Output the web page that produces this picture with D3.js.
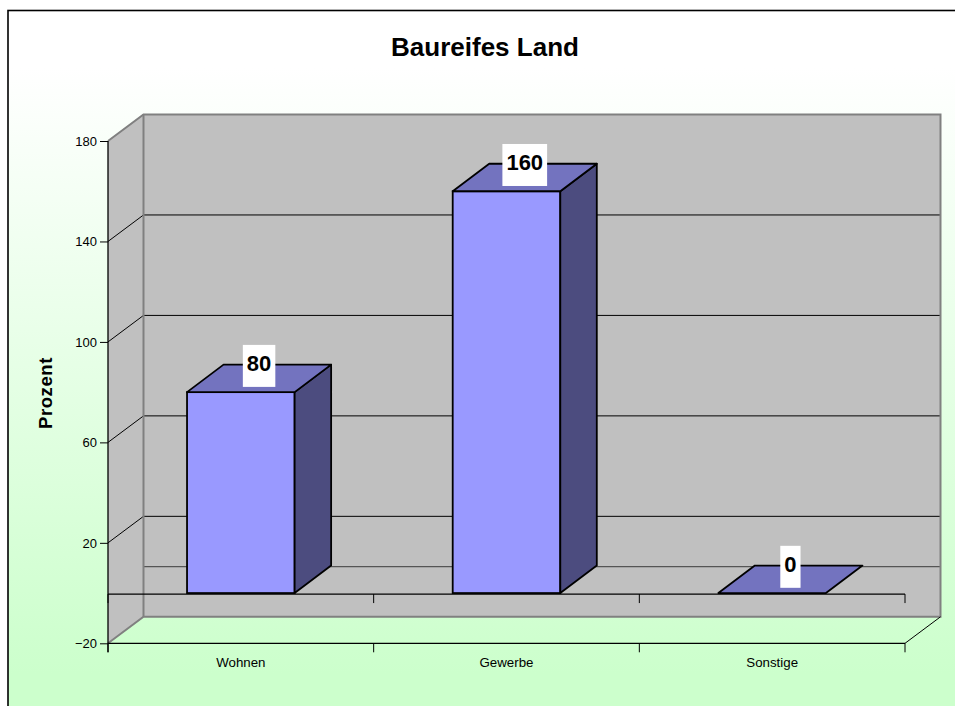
<!DOCTYPE html>
<html>
<head>
<meta charset="utf-8">
<script src="https://cdn.jsdelivr.net/npm/d3@7"></script>
<style>
  html, body { margin: 0; padding: 0; background: #fff; }
  svg { display: block; font-family: "Liberation Sans", Arial, sans-serif; }
</style>
</head>
<body>
<svg id="chart" width="955" height="706"></svg>
<script>
const title = "Baureifes Land";
const yTitle = "Prozent";
const categories = ["Wohnen", "Gewerbe", "Sonstige"];
const values = [80, 160, 0];
const yTickValues = [-20, 20, 60, 100, 140, 180];
const yDomain = [-20, 180];

const svg = d3.select("#chart");
const W = 955, H = 706;

// layout
const pLeft = 108, pRight = 905, pTop = 141, pBottom = 643.3;
const wallDx = 35.5, wallDy = -26.5;
const barDx = 36.5, barDy = -27.5;

// background gradient
const defs = svg.append("defs");
const grad = defs.append("linearGradient").attr("id", "bg")
  .attr("x1", 0).attr("y1", 0).attr("x2", 0).attr("y2", 1);
grad.append("stop").attr("offset", "0%").attr("stop-color", "#ffffff");
grad.append("stop").attr("offset", "8%").attr("stop-color", "#ffffff");
grad.append("stop").attr("offset", "92%").attr("stop-color", "#ccffcc");
grad.append("stop").attr("offset", "100%").attr("stop-color", "#ccffcc");

svg.append("rect").attr("x", 0).attr("y", 0).attr("width", W).attr("height", H).attr("fill", "#fff");
svg.append("rect").attr("x", 8).attr("y", 10.5).attr("width", 960).attr("height", 720)
  .attr("fill", "url(#bg)").attr("stroke", "#000").attr("stroke-width", 1.6);

const y = d3.scaleLinear().domain(yDomain).range([pBottom, pTop]);
const x = d3.scaleBand().domain(categories).range([pLeft, pRight])
  .paddingInner(0.595).paddingOuter(0.2975);
const xCat = d3.scaleBand().domain(categories).range([pLeft, pRight]).padding(0);

const y0 = y(0);
const bx0 = pLeft + wallDx, bx1 = pRight + wallDx;

// side wall
svg.append("path")
  .attr("d", `M${pLeft},${y(180)} L${bx0},${y(180) + wallDy} L${bx0},${y(-20) + wallDy} L${pLeft},${y(-20)} Z`)
  .attr("fill", "#c0c0c0").attr("stroke", "none");
// back wall
svg.append("rect")
  .attr("x", bx0).attr("y", y(180) + wallDy)
  .attr("width", bx1 - bx0).attr("height", y(-20) - y(180))
  .attr("fill", "#c0c0c0").attr("stroke", "none");

// gridlines (back wall + side wall diagonals)
const gridVals = yTickValues.filter(v => v > -20 && v < 180);
svg.append("g").selectAll("line").data(gridVals).join("line")
  .attr("x1", bx0).attr("x2", bx1)
  .attr("y1", d => y(d) + wallDy).attr("y2", d => y(d) + wallDy)
  .attr("stroke", "#000").attr("stroke-width", 1);
svg.append("g").selectAll("line").data(gridVals).join("line")
  .attr("x1", pLeft).attr("x2", bx0)
  .attr("y1", d => y(d)).attr("y2", d => y(d) + wallDy)
  .attr("stroke", "#000").attr("stroke-width", 1);

// back 0-line
svg.append("line").attr("x1", bx0).attr("x2", bx1)
  .attr("y1", y0 + wallDy).attr("y2", y0 + wallDy)
  .attr("stroke", "#555").attr("stroke-width", 1.2);

// wall borders
const border = "#808080";
svg.append("path")
  .attr("d", `M${pLeft},${y(180)} L${bx0},${y(180) + wallDy} L${bx1},${y(180) + wallDy} L${bx1},${y(-20) + wallDy} L${bx0},${y(-20) + wallDy} L${pLeft},${y(-20)}`)
  .attr("fill", "none").attr("stroke", border).attr("stroke-width", 2);
svg.append("line").attr("x1", bx0).attr("x2", bx0)
  .attr("y1", y(180) + wallDy).attr("y2", y(-20) + wallDy)
  .attr("stroke", border).attr("stroke-width", 2);

// floor front edge & right diagonal
svg.append("line").attr("x1", pLeft).attr("x2", pRight).attr("y1", pBottom).attr("y2", pBottom)
  .attr("stroke", "#000").attr("stroke-width", 1.2);
svg.append("line").attr("x1", pRight).attr("x2", bx1).attr("y1", pBottom).attr("y2", pBottom + wallDy)
  .attr("stroke", "#000").attr("stroke-width", 1);

// category boundary ticks
const bounds = [pLeft].concat(categories.map(c => xCat(c) + xCat.bandwidth()));
svg.append("g").selectAll("line").data(bounds).join("line")
  .attr("x1", d => d).attr("x2", d => d).attr("y1", pBottom).attr("y2", pBottom + 9)
  .attr("stroke", "#000").attr("stroke-width", 1);

// front 0-line with ticks
svg.append("line").attr("x1", pLeft).attr("x2", pRight).attr("y1", y0 + 1).attr("y2", y0 + 1)
  .attr("stroke", "#000").attr("stroke-width", 1.2);
svg.append("g").selectAll("line").data(bounds).join("line")
  .attr("x1", d => d).attr("x2", d => d).attr("y1", y0 + 1).attr("y2", y0 + 10)
  .attr("stroke", "#000").attr("stroke-width", 1);

// category labels
svg.append("g").selectAll("text").data(categories).join("text")
  .attr("x", d => xCat(d) + xCat.bandwidth() / 2)
  .attr("y", 667)
  .attr("text-anchor", "middle")
  .attr("font-size", 13.3)
  .attr("fill", "#000")
  .text(d => d);

// y axis
const yAxis = d3.axisLeft(y).tickValues(yTickValues).tickSize(8).tickPadding(3).tickSizeOuter(0);
const gy = svg.append("g").attr("transform", `translate(${pLeft},0)`).call(yAxis);
gy.select(".domain").remove();
gy.selectAll(".tick line").attr("stroke", "#000");
gy.selectAll(".tick text").attr("font-size", 13).attr("fill", "#000")
  .attr("font-family", "Liberation Sans, Arial, sans-serif");
svg.append("line").attr("x1", pLeft).attr("x2", pLeft).attr("y1", pTop).attr("y2", pBottom + 9)
  .attr("stroke", "#000").attr("stroke-width", 1.3);

// bars
const bars = svg.append("g");
values.forEach((v, i) => {
  const c = categories[i];
  const xl = x(c), xr = x(c) + x.bandwidth();
  const yt = y(v);
  const g = bars.append("g");
  if (v !== 0) {
    g.append("rect").attr("x", xl).attr("y", yt).attr("width", xr - xl).attr("height", y0 - yt)
      .attr("fill", "#9999ff").attr("stroke", "#000").attr("stroke-width", 1.8);
    g.append("path")
      .attr("d", `M${xr},${yt} L${xr + barDx},${yt + barDy} L${xr + barDx},${y0 + barDy} L${xr},${y0} Z`)
      .attr("fill", "#4c4c7f").attr("stroke", "#000").attr("stroke-width", 1.8).attr("stroke-linejoin", "round");
  }
  g.append("path")
    .attr("d", `M${xl},${yt} L${xl + barDx},${yt + barDy} L${xr + barDx},${yt + barDy} L${xr},${yt} Z`)
    .attr("fill", "#7373bf").attr("stroke", "#000").attr("stroke-width", 1.8).attr("stroke-linejoin", "round");
});

// data labels
const labels = svg.append("g");
values.forEach((v, i) => {
  const c = categories[i];
  const cx = x(c) + x.bandwidth() / 2 + barDx / 2;
  const cy = y(v) + barDy / 2 - 12.5;
  const t = labels.append("text")
    .attr("x", cx).attr("y", cy + 5)
    .attr("text-anchor", "middle")
    .attr("font-size", 22).attr("font-weight", "bold").attr("fill", "#000")
    .text(v);
  const w = t.node().getComputedTextLength() + 8;
  labels.insert("rect", () => t.node())
    .attr("x", cx - w / 2).attr("y", cy - 21).attr("width", w).attr("height", 42)
    .attr("fill", "#fff");
});

// title
svg.append("text").attr("x", 485).attr("y", 56).attr("text-anchor", "middle")
  .attr("font-size", 26).attr("font-weight", "bold").attr("fill", "#000").text(title);

// y title
svg.append("text")
  .attr("transform", `translate(52,393) rotate(-90)`)
  .attr("text-anchor", "middle")
  .attr("font-size", 18.5).attr("font-weight", "bold").attr("letter-spacing", 0.6).attr("fill", "#000")
  .text(yTitle);
</script>
</body>
</html>
